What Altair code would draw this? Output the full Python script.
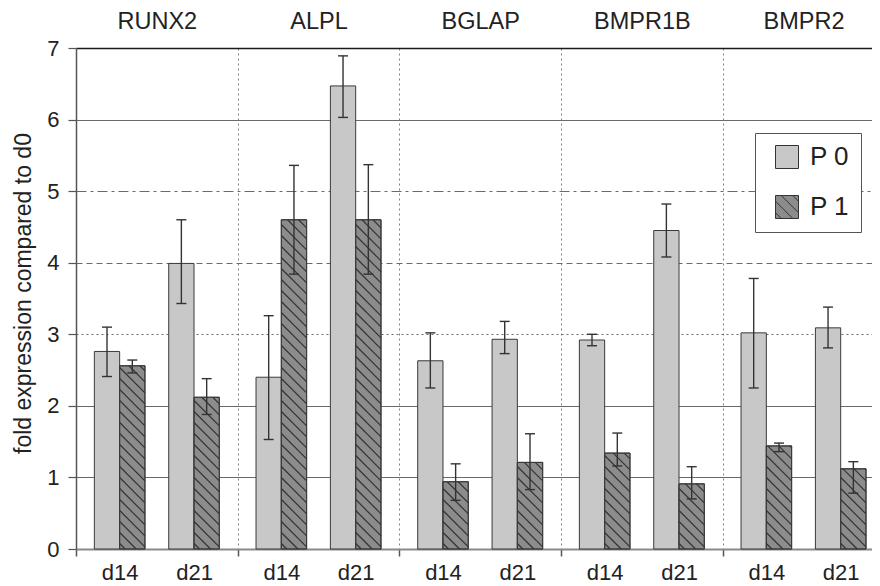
import json
import altair as alt
import pandas as pd

# ---------------- data ----------------
genes = ["RUNX2", "ALPL", "BGLAP", "BMPR1B", "BMPR2"]
days = ["d14", "d21"]
series = ["P 0", "P 1"]

# ordered gene by gene, d14 then d21
p0_mean = [2.76, 3.99, 2.40, 6.47, 2.63, 2.93, 2.92, 4.45, 3.02, 3.09]
p0_low = [2.41, 3.43, 1.53, 6.03, 2.25, 2.73, 2.84, 4.08, 2.25, 2.81]
p0_high = [3.10, 4.60, 3.26, 6.89, 3.02, 3.18, 3.00, 4.82, 3.78, 3.38]
p1_mean = [2.56, 2.12, 4.60, 4.60, 0.94, 1.21, 1.34, 0.91, 1.44, 1.12]
p1_low = [2.46, 1.88, 3.84, 3.84, 0.68, 0.83, 1.16, 0.70, 1.36, 0.78]
p1_high = [2.64, 2.38, 5.36, 5.37, 1.19, 1.61, 1.62, 1.15, 1.48, 1.22]

# ---------------- layout constants ----------------
FONT = "Liberation Sans"
W, H = 796, 501
GROUP_PX = 161.67
x_max = W / GROUP_PX
kx = W / x_max
ky = H / 7.0
day_off = [0.270, 0.730]
bar_w = 25.3 / GROUP_PX
cap_half = 5.0 / GROUP_PX
HATCH_STEP = 11.0

rows = []
means = [p0_mean, p1_mean]
lows = [p0_low, p1_low]
highs = [p0_high, p1_high]
for gi, g in enumerate(genes):
    for di, d in enumerate(days):
        idx = gi * 2 + di
        center = gi + day_off[di]
        for si, s in enumerate(series):
            x0 = center - bar_w if si == 0 else center
            x1 = x0 + bar_w
            rows.append(dict(gene=g, day=d, series=s, x0=x0, x1=x1,
                             xc=(x0 + x1) / 2, value=means[si][idx],
                             low=lows[si][idx], high=highs[si][idx], base=0.0))
df = pd.DataFrame(rows)

# hatch lines for P 1 bars (derived from the bar geometry)
hatch = []
for r in df[df.series == series[1]].itertuples():
    wpx = (r.x1 - r.x0) * kx
    hpx = r.value * ky
    c = HATCH_STEP / 2
    while c < wpx + hpx:
        xa = max(0.0, c - hpx)
        xb = min(wpx, c)
        hatch.append(dict(hx=r.x0 + xa / kx, hy=(c - xa) / ky,
                          hx2=r.x0 + xb / kx, hy2=(c - xb) / ky))
        c += HATCH_STEP
hatch_df = pd.DataFrame(hatch)

caps = []
for r in df.itertuples():
    for v in (r.low, r.high):
        caps.append(dict(ca=r.xc - cap_half, cb=r.xc + cap_half, cy=v))
caps_df = pd.DataFrame(caps)

# ---------------- scales & axes ----------------
xs = alt.Scale(domain=[0, x_max], nice=False, zero=False)
ys = alt.Scale(domain=[0, 7], nice=False)

label_pos = [gi + o for gi in range(len(genes)) for o in day_off]
bottom_values = list(range(len(genes))) + label_pos
bottom_axis = alt.Axis(
    orient="bottom", values=bottom_values, title=None,
    labelExpr=f"datum.value % 1 == 0 ? '' : {json.dumps(days)}[datum.value % 1 < 0.5 ? 0 : 1]",
    labelFont=FONT, labelFontSize=22, labelColor="#222", labelPadding=23,
    labelBaseline="alphabetic", labelOverlap=False, labelFlush=False,
    tickSize=7, tickColor="#555", tickWidth=1.5,
    tickOpacity={"condition": {"test": "datum.value % 1 == 0", "value": 1}, "value": 0},
    domainColor="#8a8a8a", domainWidth=2,
    grid=True, gridColor="#808080", gridDash=[2, 3], gridWidth=1,
    gridOpacity={"condition": {"test": "datum.value % 1 == 0 && datum.value > 0", "value": 1}, "value": 0},
)
top_axis = alt.Axis(
    orient="top", values=[gi + 0.5 for gi in range(len(genes))], title=None,
    labelExpr=f"{json.dumps(genes)}[floor(datum.value)]",
    labelFont=FONT, labelFontSize=23.5, labelColor="#222", labelPadding=19.5,
    labelBaseline="alphabetic", labelOverlap=False, labelFlush=False,
    ticks=False, domain=False, grid=False,
)
y_axis = alt.Axis(
    values=list(range(8)), format="d", title="fold expression compared to d0",
    titleFont=FONT, titleFontSize=23, titleFontWeight="normal", titleColor="#222",
    titlePadding=11, titleY=245,
    labelFont=FONT, labelFontSize=22, labelColor="#222", labelPadding=9,
    tickSize=8, tickColor="#555", tickWidth=1.2,
    domainColor="#555", domainWidth=1.5,
    grid=True,
    gridColor={"condition": {"test": "datum.value == 7", "value": "#1a1a1a"}, "value": "#6a6a6a"},
    gridWidth={"condition": {"test": "datum.value == 7", "value": 1.6}, "value": 1},
    gridDash={"condition": [
        {"test": "datum.value == 3", "value": [2, 3]},
        {"test": "datum.value == 4", "value": [6, 4]},
        {"test": "datum.value == 5", "value": [10, 4, 3, 4]},
    ], "value": []},
    gridOpacity={"condition": {"test": "datum.value == 0", "value": 0}, "value": 1},
)

HATCH_PATH = ("M-1,-1H1V1H-1Z M-1,0.5L-0.5,1 M-1,-0.5L0.5,1 "
              "M-0.5,-1L1,0.5 M0.5,-1L1,-0.5")
fill_scale = alt.Scale(domain=series, range=["#c8c8c8", "#8c8c8c"])
stroke_scale = alt.Scale(domain=series, range=["#333333", "#333333"])
shape_scale = alt.Scale(domain=series, range=["square", HATCH_PATH])
legend = alt.Legend(
    title=None, orient="none", legendX=679, legendY=85,
    fillColor="white", strokeColor="#555", padding=11,
    symbolSize=529, symbolStrokeWidth=1, symbolOpacity=1,
    symbolOffset=8, labelOffset=10, rowPadding=22,
    labelFont=FONT, labelFontSize=26, labelColor="#222",
)

# ---------------- layers ----------------
base = alt.Chart(df)


def yenc(field):
    return alt.Y(field, scale=ys, axis=y_axis)


bars0 = base.transform_filter(alt.datum.series == series[0]).mark_bar(
    fill="#c8c8c8", stroke="#3a3a3a", strokeWidth=1
).encode(
    x=alt.X("x0:Q", scale=xs, axis=bottom_axis),
    x2="x1:Q",
    y=yenc("value:Q"),
    y2="base:Q",
)
bars1 = base.transform_filter(alt.datum.series == series[1]).mark_bar(
    fill="#8c8c8c", stroke="#3a3a3a", strokeWidth=1
).encode(
    x=alt.X("x0:Q", scale=xs, axis=None),
    x2="x1:Q",
    y=yenc("value:Q"),
    y2="base:Q",
)
hatch_layer = alt.Chart(hatch_df).mark_rule(color="#333", strokeWidth=1.2).encode(
    x=alt.X("hx:Q", scale=xs, axis=None),
    x2="hx2:Q",
    y=yenc("hy:Q"),
    y2="hy2:Q",
)
outline1 = base.transform_filter(alt.datum.series == series[1]).mark_bar(
    fill="transparent", stroke="#3a3a3a", strokeWidth=1
).encode(
    x=alt.X("x0:Q", scale=xs, axis=None),
    x2="x1:Q",
    y=yenc("value:Q"),
    y2="base:Q",
)
err = base.mark_rule(color="#333", strokeWidth=1.4).encode(
    x=alt.X("xc:Q", scale=xs, axis=None),
    y=yenc("low:Q"),
    y2="high:Q",
)
cap_layer = alt.Chart(caps_df).mark_rule(color="#333", strokeWidth=1.4).encode(
    x=alt.X("ca:Q", scale=xs, axis=top_axis),
    x2="cb:Q",
    y=yenc("cy:Q"),
)
legend_layer = base.transform_filter("false").mark_point(
    filled=True, opacity=1, strokeWidth=1
).encode(
    x=alt.X("xc:Q", scale=xs, axis=None),
    y=yenc("value:Q"),
    fill=alt.Fill("series:N", scale=fill_scale, legend=legend),
    stroke=alt.Stroke("series:N", scale=stroke_scale, legend=legend),
    shape=alt.Shape("series:N", scale=shape_scale, legend=legend),
)

chart = alt.layer(
    bars0, bars1, hatch_layer, outline1, err, cap_layer, legend_layer
).resolve_axis(x="independent", y="shared").properties(
    width=W, height=H,
    autosize=alt.AutoSizeParams(type="none"),
    padding={"left": 68, "top": 40, "right": 0, "bottom": 34},
).configure(font=FONT).configure_view(stroke=None)

chart.save("out.html", embed_options={"renderer": "svg", "actions": False})
